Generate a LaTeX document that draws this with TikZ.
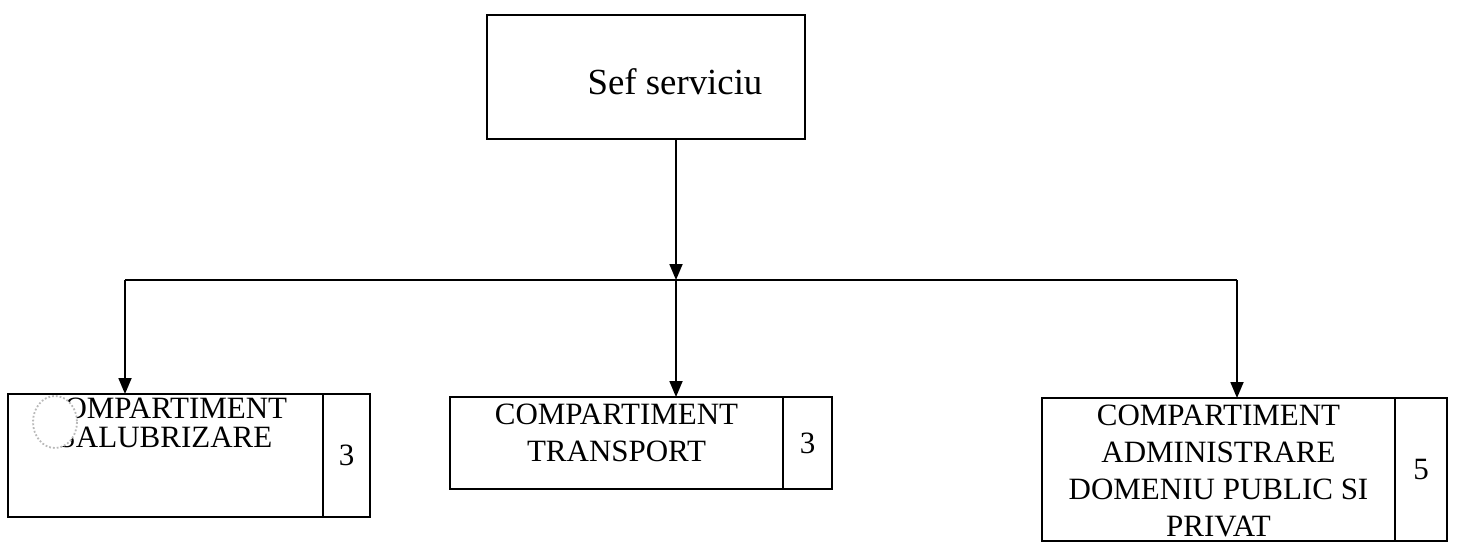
\documentclass[tikz,border=0pt]{standalone}
\usepackage{fontspec}
\setmainfont{Liberation Serif}
\usetikzlibrary{positioning, arrows.meta}

\begin{document}
\begin{tikzpicture}[x=0.5pt,y=-0.5pt,line width=0.9pt,
    box/.style={draw, rectangle, inner sep=0pt, outer sep=0pt},
    cell/.style={font=\fontsize{15.5}{18.5}\selectfont, align=center, inner sep=1pt},
    num/.style={box, font=\fontsize{15.5}{18}\selectfont},
    link/.style={-{Triangle[length=8pt,width=6.5pt]}}]
  \useasboundingbox (0,0) rectangle (1458,547);
  % sef
  \node[box, minimum width=159pt, minimum height=62pt] (sef) at (646,77) {};
  \node[font=\fontsize{18.4}{22}\selectfont] (tsef) at (675,82) {Sef serviciu};
  % compartimente
  \node[box, minimum width=157.5pt, minimum height=61.5pt] (salub) at (165.5,455.5) {};
  \node[num, minimum width=23.5pt, minimum height=61.5pt] (nsalub) [right=0pt of salub] {3};
  \node[cell, font=\fontsize{15.5}{14.5}\selectfont, inner sep=0pt] (tsalub) [below=1.5pt of salub.north] {COMPARTIMENT\\SALUBRIZARE};
  \draw[gray!55, densely dotted, fill=white] (55,422) ellipse [x radius=22, y radius=26];
  \node[box, minimum width=166.5pt, minimum height=46pt] (transp) at (616.5,443) {};
  \node[num, minimum width=24.5pt, minimum height=46pt] (ntransp) [right=0pt of transp] {3};
  \node[cell] (ttransp) [below=2pt of transp.north] {COMPARTIMENT\\TRANSPORT};
  \node[box, minimum width=176.5pt, minimum height=71.5pt] (admin) at (1218.5,469.5) {};
  \node[num, minimum width=26pt, minimum height=71.5pt] (nadmin) [right=0pt of admin] {5};
  \node[cell] (tadmin) [below=2pt of admin.north] {COMPARTIMENT\\ADMINISTRARE\\DOMENIU PUBLIC SI\\PRIVAT};
  % legaturi
  \coordinate (hub) at (676,280);
  \coordinate (lft) at (125,280);
  \coordinate (rgt) at (1237,280);
  \draw[link] (sef.south -| hub) -- (hub);
  \draw (lft) -- (rgt);
  \path[link]
    (lft) edge (lft |- salub.north)
    (hub) edge (hub |- transp.north)
    (rgt) edge (rgt |- admin.north);
\end{tikzpicture}
\end{document}
